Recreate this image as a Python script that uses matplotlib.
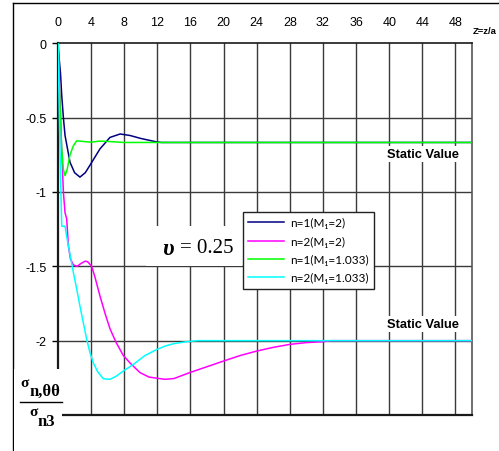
import matplotlib
matplotlib.use("Agg")
import matplotlib.pyplot as plt
from matplotlib.lines import Line2D
from matplotlib.patches import Rectangle

# ---------------- data ----------------
x_ticks = [0, 4, 8, 12, 16, 20, 24, 28, 32, 36, 40, 44, 48]
y_ticks = [0, -0.5, -1, -1.5, -2]
y_tick_labels = ["0", "-0.5", "-1", "-1.5", "-2"]

navy_x = [0, 0.1, 0.3, 0.45, 0.65, 0.85, 1.45, 2.0, 2.65, 3.3, 3.86, 5.07, 6.28, 7.5, 8.7, 10, 11.9, 12.5, 50]
navy_y = [0, -0.08, -0.2, -0.35, -0.5, -0.62, -0.80, -0.87, -0.90, -0.87, -0.82, -0.71, -0.633, -0.61, -0.62, -0.64, -0.663, -0.667, -0.667]

mag_x = [0, 0.2, 0.4, 0.65, 0.85, 1.05, 1.25, 1.5, 1.85, 2.3, 2.8, 3.3, 3.6, 4.07, 4.5, 5.07, 5.7, 6.28, 7.0, 7.89,
         8.7, 9.9, 11, 12.9, 14, 15.9, 18, 20, 22, 24, 26, 28, 30, 32, 33, 50]
mag_y = [0, -0.3, -0.65, -1.0, -1.14, -1.18, -1.36, -1.45, -1.49, -1.50, -1.48, -1.465, -1.47, -1.50, -1.58, -1.70,
         -1.82, -1.92, -2.01, -2.10, -2.15, -2.215, -2.245, -2.26, -2.255, -2.215, -2.175, -2.137, -2.10, -2.07,
         -2.045, -2.025, -2.013, -2.007, -2.0, -2.0]

green_x = [0, 0.1, 0.24, 0.45, 0.65, 0.85, 1.1, 1.45, 1.85, 2.25, 3, 4, 5, 6, 8, 50]
green_y = [0, -0.15, -0.42, -0.71, -0.85, -0.89, -0.85, -0.75, -0.69, -0.656, -0.66, -0.665, -0.658, -0.66, -0.667, -0.667]

cyan_x = [0, 0.1, 0.25, 0.45, 0.85, 1.05, 1.45, 1.85, 2.25, 2.66, 3.06, 3.46, 3.86, 4.27, 4.8, 5.47, 6.28, 7.0, 8.0,
          9.1, 10.5, 11.9, 13, 14, 15.5, 17, 50]
cyan_y = [0, -0.3, -0.75, -1.23, -1.23, -1.30, -1.42, -1.54, -1.65, -1.77, -1.88, -1.99, -2.08, -2.15, -2.21, -2.256,
          -2.26, -2.24, -2.20, -2.16, -2.10, -2.06, -2.035, -2.02, -2.007, -2.0, -2.0]

labels = ["n=1(M\u2081=2)", "n=2(M\u2081=2)", "n=1(M\u2081=1.033)", "n=2(M\u2081=1.033)"]
colors = ["#000080", "#FF00FF", "#00FF00", "#00FFFF"]

# ---------------- figure ----------------
W, H = 499, 452
fig = plt.figure(figsize=(W / 100, H / 100), dpi=100)


def fx(px):
    return px / W


def fy(py):
    return 1 - py / H


ax_l, ax_r, ax_t, ax_b = 58, 472, 44.3, 416
ax = fig.add_axes([fx(ax_l), fy(ax_b), fx(ax_r) - fx(ax_l), fy(ax_t) - fy(ax_b)])
ax.set_xlim(0, 50)
ax.set_ylim(-2.5, 0)

grid_c = "#3a3a3a"
for xv in x_ticks[1:]:
    ax.axvline(xv, color=grid_c, lw=1.0, zorder=1)
for yv in y_ticks[1:]:
    ax.axhline(yv, color=grid_c, lw=1.0, zorder=1)

series = [(navy_x, navy_y), (mag_x, mag_y), (green_x, green_y), (cyan_x, cyan_y)]
handles = []
for (xs, ys), c, lab in zip(series, colors, labels):
    h, = ax.plot(xs, ys, color=c, lw=1.1, label=lab, zorder=3)
    handles.append(h)

ax.xaxis.tick_top()
ax.set_xticks(x_ticks)
ax.set_xticklabels([str(v) for v in x_ticks])
ax.set_yticks(y_ticks)
ax.set_yticklabels(y_tick_labels)
for t in ax.get_xticklabels() + ax.get_yticklabels():
    t.set_fontfamily("Liberation Sans")
    t.set_fontsize(9)
ax.tick_params(axis="x", length=0, pad=11)
ax.tick_params(axis="y", length=4, width=1.0, pad=4, direction="out")

for s in ["left", "top", "bottom", "right"]:
    ax.spines[s].set_color("#1a1a1a")
ax.spines["left"].set_linewidth(1.6)
ax.spines["bottom"].set_linewidth(1.6)
ax.spines["top"].set_linewidth(1.2)
ax.spines["right"].set_linewidth(1.2)
ax.spines["right"].set_color("#555555")

# legend
leg = fig.legend(handles=handles, labels=labels, loc="upper left",
                 bbox_to_anchor=(fx(243), fy(213)), frameon=True, fancybox=False,
                 edgecolor="#222222", framealpha=1, handlelength=3.0, handletextpad=0.5,
                 labelspacing=0.62, borderpad=0.45, borderaxespad=0,
                 prop=dict(family=["Lato", "DejaVu Sans"], size=8.5))
leg.get_frame().set_linewidth(1.0)

# nu annotation with white background
fig.patches.append(Rectangle((fx(146), fy(266.5)), fx(242) - fx(146), fy(227) - fy(266.5),
                             transform=fig.transFigure, facecolor="white", edgecolor="none", zorder=5))
fig.text(fx(162), fy(250), "\u03c5", family="Liberation Serif", weight="bold", style="italic",
         fontsize=17, ha="left", va="center", zorder=6)
fig.text(fx(180), fy(249), "= 0.25", family="Liberation Serif", fontsize=15, ha="left", va="center", zorder=6)

# static value labels
for py in [155, 325]:
    fig.text(fx(423), fy(py), "Static Value", family="Liberation Sans", weight="bold", fontsize=9.3,
             ha="center", va="center", zorder=6,
             bbox=dict(facecolor="white", edgecolor="none", pad=1.5))

# axis title
fig.text(fx(473), fy(31), "Z=z/a", family="Liberation Sans", weight="bold", fontsize=6.8,
         ha="left", va="center")

# y label (fraction) with white cover
fig.patches.append(Rectangle((fx(14), 0), fx(62) - fx(14), fy(370),
                             transform=fig.transFigure, facecolor="white", edgecolor="none", zorder=5))
fig.text(fx(20), fy(384), "\u03c3", family="Liberation Serif", weight="bold", fontsize=11,
         ha="left", va="center", zorder=6)
fig.text(fx(29), fy(392), "n,\u03b8\u03b8", family="Liberation Serif", weight="bold", fontsize=12,
         ha="left", va="center", zorder=6)
fig.add_artist(Line2D([fx(20), fx(62)], [fy(403), fy(403)], transform=fig.transFigure,
                      color="black", lw=1.0, zorder=6))
fig.text(fx(29), fy(413), "\u03c3", family="Liberation Serif", weight="bold", fontsize=11,
         ha="left", va="center", zorder=6)
fig.text(fx(38), fy(422), "n3", family="Liberation Serif", weight="bold", fontsize=12,
         ha="left", va="center", zorder=6)

# outer frame (left and top)
fig.add_artist(Line2D([fx(13), fx(13)], [fy(4), 0], transform=fig.transFigure, color="black", lw=1.0))
fig.add_artist(Line2D([fx(13), 1], [fy(4), fy(4)], transform=fig.transFigure, color="black", lw=1.0))

fig.savefig("out.png", dpi=100)
